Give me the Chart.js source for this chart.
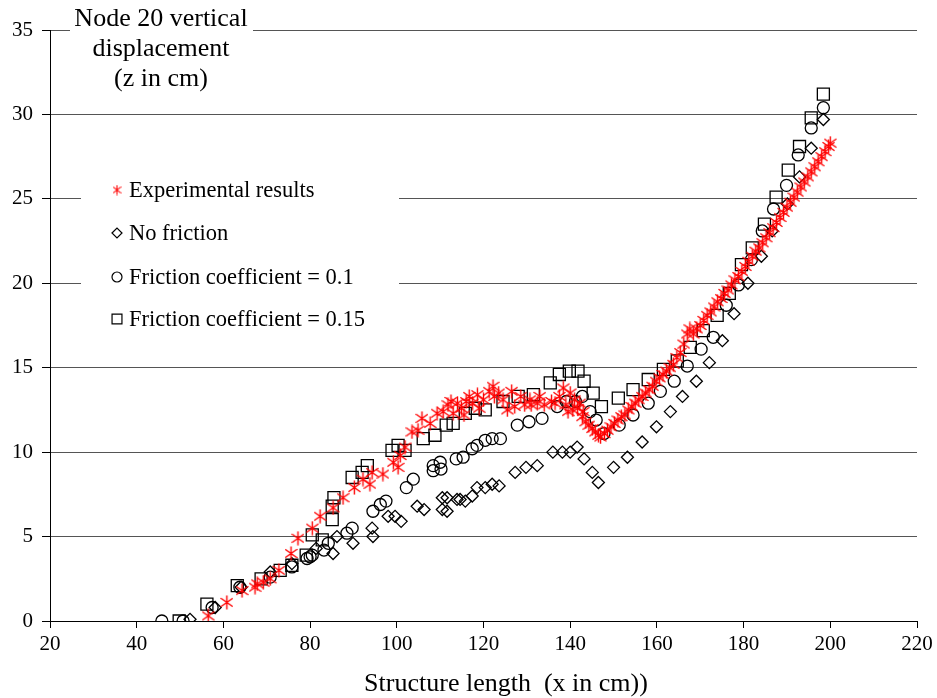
<!DOCTYPE html>
<html>
<head>
<meta charset="utf-8">
<script src="https://cdn.jsdelivr.net/npm/chart.js@4"></script>
<style>
  html, body { margin: 0; padding: 0; background: #fff; }
  canvas { display: block; }
</style>
</head>
<body>
<canvas id="chart" width="937" height="698"></canvas>
<script>
// ── Data ─────────────────────────────────────────────────────
const expX = [56.5, 60.8, 64.3, 67.3, 67.8, 69.2, 70.8, 72.8, 75.6, 77.2, 80.5, 82.3, 85.3, 87.6, 90.2, 92.2,
  93.8, 94.3, 96.8, 99.2, 100.3, 100.8, 101.9, 103.5, 104.9, 105.8, 107.7, 109.3, 110.7, 111.8, 112.5, 113.0,
  114.0, 114.9, 115.5, 116.0, 116.7, 117.5, 118.6, 119.0, 120.0, 121.3, 122.2, 122.5, 123.5, 124.5, 125.5, 126.5,
  127.2, 128.6, 129.5, 130.7, 131.0, 132.4, 133.0, 134.0, 135.7, 136.5, 137.5, 138.4, 139.0, 139.5, 140.0, 140.6,
  141.0, 141.7, 142.2, 142.8, 143.0, 143.6, 144.3, 145.1, 145.8, 146.5, 147.0, 147.9, 148.6, 149.4, 150.2, 151.0,
  151.8, 152.6, 153.4, 154.2, 155.0, 155.8, 156.6, 157.4, 158.2, 159.0, 159.8, 160.6, 161.4, 162.2, 163.0, 163.8,
  164.6, 165.4, 166.2, 167.0, 167.6, 168.4, 169.2, 170.0, 170.8, 171.6, 172.4, 173.2, 174.0, 174.8, 175.6, 176.4,
  177.2, 178.0, 178.8, 179.6, 180.4, 181.2, 182.0, 182.8, 183.6, 184.4, 185.2, 186.0, 186.8, 187.6, 188.4, 189.2,
  190.0, 190.8, 191.6, 192.4, 193.2, 194.0, 194.8, 195.6, 196.4, 197.2, 198.0, 198.8, 199.6, 200.0];
const expY = [0.3, 1.1, 1.8, 2.0, 2.2, 2.3, 2.5, 3.0, 4.0, 4.9, 5.5, 6.2, 6.7, 7.3, 7.9, 8.4,
  8.1, 8.8, 8.7, 9.4, 9.1, 9.8, 10.3, 11.2, 11.3, 12.0, 11.7, 12.3, 12.4, 12.8, 13.0, 12.3,
  12.9, 12.6, 12.2, 13.0, 13.3, 12.9, 13.4, 12.6, 13.1, 13.6, 13.9, 13.3, 13.5, 13.1, 12.5, 13.6,
  12.7, 13.3, 12.8, 13.1, 12.8, 12.9, 13.3, 12.8, 13.0, 12.9, 13.3, 13.8, 12.8, 12.4, 13.5, 12.5,
  13.1, 12.6, 12.9, 12.1, 12.4, 11.8, 11.6, 11.4, 11.2, 11.0, 10.9, 11.1, 11.3, 11.5, 11.7, 11.9,
  12.1, 12.2, 12.5, 12.7, 12.9, 13.1, 13.3, 13.5, 13.7, 13.9, 14.2, 14.4, 14.6, 14.8, 15.0, 15.2,
  15.6, 15.9, 16.4, 17.0, 17.3, 17.0, 17.3, 17.5, 17.8, 18.1, 18.3, 18.6, 18.9, 19.1, 19.4, 19.6,
  19.9, 20.2, 20.4, 20.7, 21.0, 21.3, 21.6, 21.9, 22.1, 22.4, 22.7, 23.0, 23.3, 23.6, 23.9, 24.2,
  24.5, 24.8, 25.1, 25.4, 25.7, 26.0, 26.3, 26.6, 26.9, 27.2, 27.5, 27.8, 28.1, 28.3];

const noFrictionX = [52.3, 58.1, 64.1, 70.8, 75.8, 81.4, 85.3, 86.2, 89.9, 94.3, 94.5, 98.0, 99.6, 101.0, 104.7, 106.3,
  110.5, 111.6, 110.5, 111.6, 113.9, 114.6, 115.8, 117.4, 118.5, 120.4, 122.0, 123.6, 127.3, 129.8, 132.4, 136.0,
  138.2, 140.0, 141.6, 143.2, 145.1, 146.5, 150.0, 153.2, 156.6, 159.9, 163.1, 165.9, 169.1, 172.1, 175.1, 177.8,
  181.0, 184.1, 186.6, 190.1, 192.9, 195.6, 198.4];
const noFrictionY = [0.1, 0.8, 2.0, 2.9, 3.4, 4.3, 4.0, 5.0, 4.6, 5.5, 5.0, 6.2, 6.2, 5.9, 6.8, 6.6,
  7.3, 7.3, 6.6, 6.5, 7.2, 7.2, 7.1, 7.4, 7.9, 7.9, 8.1, 8.0, 8.8, 9.1, 9.2, 10.0,
  10.0, 10.0, 10.3, 9.6, 8.8, 8.2, 9.1, 9.7, 10.6, 11.5, 12.4, 13.3, 14.2, 15.3, 16.6, 18.2,
  20.0, 21.6, 23.1, 24.7, 26.3, 28.0, 29.7];

const fric01X = [45.8, 50.7, 57.4, 63.8, 70.8, 75.8, 79.3, 80.0, 80.5, 83.2, 84.2, 88.5, 89.7, 94.5, 96.2, 97.5,
  102.2, 103.8, 108.4, 108.4, 110.0, 110.2, 113.7, 115.3, 117.4, 118.5, 120.4, 122.0, 123.9, 127.8, 130.5, 133.5,
  137.0, 139.1, 141.2, 142.8, 144.6, 146.0, 147.8, 151.3, 154.5, 158.0, 160.8, 164.0, 167.0, 170.2, 173.0, 176.0,
  178.8, 181.8, 184.3, 186.9, 189.9, 192.6, 195.6, 198.4];
const fric01Y = [0.0, 0.0, 0.8, 2.0, 2.6, 3.2, 3.7, 3.8, 3.9, 4.2, 4.6, 5.2, 5.5, 6.5, 6.9, 7.1,
  7.9, 8.4, 9.2, 8.9, 9.4, 9.0, 9.6, 9.7, 10.2, 10.4, 10.7, 10.8, 10.8, 11.6, 11.8, 12.0,
  12.7, 13.0, 13.0, 13.3, 12.4, 11.9, 11.1, 11.6, 12.2, 12.9, 13.6, 14.2, 15.1, 16.1, 16.8, 18.7,
  19.9, 21.4, 23.1, 24.4, 25.8, 27.6, 29.2, 30.4];

const fric015X = [49.8, 56.2, 63.2, 68.7, 73.1, 75.8, 79.1, 80.5, 82.8, 85.1, 85.1, 85.5, 89.7, 92.0, 93.2, 98.9,
  100.3, 101.9, 106.1, 108.8, 111.4, 113.0, 115.8, 118.1, 120.4, 124.5, 128.0, 131.5, 135.4, 137.5, 139.8, 141.8,
  143.2, 145.3, 147.2, 151.1, 154.5, 158.0, 161.5, 164.7, 167.7, 170.7, 173.9, 176.7, 179.5, 182.0, 184.8, 187.5,
  190.3, 192.9, 195.6, 198.4];
const fric015Y = [0.0, 1.0, 2.1, 2.5, 3.0, 3.3, 3.9, 5.1, 4.8, 6.0, 6.8, 7.3, 8.5, 8.8, 9.2, 10.1,
  10.4, 10.1, 10.8, 11.0, 11.6, 11.7, 12.3, 12.6, 12.5, 13.0, 13.3, 13.4, 14.1, 14.6, 14.8, 14.8,
  14.2, 13.5, 12.7, 13.2, 13.7, 14.3, 14.9, 15.4, 16.2, 17.2, 18.1, 19.4, 21.1, 22.1, 23.5, 25.1,
  26.7, 28.1, 29.8, 31.2];

const xTicks = [20, 40, 60, 80, 100, 120, 140, 160, 180, 200, 220];
const yTicks = [0, 5, 10, 15, 20, 25, 30, 35];

const titleLines = ['Node 20 vertical', 'displacement', '(z in cm)'];
const xTitle = 'Structure length  (x in cm))';
const legendLabels = ['Experimental results', 'No friction', 'Friction coefficient = 0.1', 'Friction coefficient = 0.15'];

// ── Styling ──────────────────────────────────────────────────
const SERIF = "'Liberation Serif', 'Times New Roman', serif";
const RED = '#ff0000';
const GRID = '#555555';

function makeAsterisk(size, lw) {
  const c = document.createElement('canvas');
  const w = size, h = size + 2;
  c.width = w; c.height = h;
  const g = c.getContext('2d');
  g.strokeStyle = RED;
  g.lineWidth = lw;
  g.beginPath();
  g.moveTo(w / 2, 0.5); g.lineTo(w / 2, h - 0.5);
  g.moveTo(0.5, h * 0.22); g.lineTo(w - 0.5, h * 0.78);
  g.moveTo(0.5, h * 0.78); g.lineTo(w - 0.5, h * 0.22);
  g.stroke();
  return c;
}
const starBig = makeAsterisk(13, 1.4);
const starSmall = makeAsterisk(9, 1.1);

const pts = (xs, ys) => xs.map((x, i) => ({ x, y: ys[i] }));

const seriesStyle = [
  { pointStyle: starBig, radius: 7, legendStyle: starSmall, legendRadius: 5 },
  { pointStyle: 'rectRot', radius: 6, legendStyle: 'rectRot', legendRadius: 5 },
  { pointStyle: 'circle', radius: 6, legendStyle: 'circle', legendRadius: 5 },
  { pointStyle: 'rect', radius: 8.5, legendStyle: 'rect', legendRadius: 7 },
];

const datasets = [
  pts(expX, expY), pts(noFrictionX, noFrictionY), pts(fric01X, fric01Y), pts(fric015X, fric015Y),
].map((data, i) => ({
  label: legendLabels[i],
  data,
  showLine: false,
  pointStyle: seriesStyle[i].pointStyle,
  pointRadius: seriesStyle[i].radius,
  pointHoverRadius: seriesStyle[i].radius,
  pointBackgroundColor: 'rgba(0,0,0,0)',
  pointBorderColor: i === 0 ? RED : '#000',
  pointBorderWidth: 1.3,
}));

// ── Overlay text: title box, in-plot legend, x axis title ────
const overlay = {
  id: 'overlay',
  afterDraw(chart) {
    const ctx = chart.ctx;
    ctx.save();
    ctx.fillStyle = '#fff';
    ctx.fillRect(70, 0, 183, 95);
    ctx.fillRect(81, 165, 318, 175);

    ctx.fillStyle = '#000';
    ctx.textBaseline = 'middle';
    ctx.textAlign = 'center';
    ctx.font = '26px ' + SERIF;
    titleLines.forEach((t, i) => ctx.fillText(t, 161, 19 + i * 30));

    ctx.font = '26px ' + SERIF;
    ctx.fillText(xTitle, 506, 684);

    ctx.textAlign = 'left';
    ctx.font = '22.5px ' + SERIF;
    const rows = [190, 233, 277, 319];
    legendLabels.forEach((t, i) => {
      const s = seriesStyle[i];
      ctx.strokeStyle = i === 0 ? RED : '#000';
      ctx.fillStyle = 'rgba(0,0,0,0)';
      ctx.lineWidth = 1.2;
      Chart.helpers.drawPoint(ctx, { pointStyle: s.legendStyle, radius: s.legendRadius, rotation: 0, borderWidth: 1.2 }, 117, rows[i]);
      ctx.fillStyle = '#000';
      ctx.fillText(t, 129, rows[i] + 1);
    });
    ctx.restore();
  },
};

new Chart(document.getElementById('chart'), {
  type: 'scatter',
  data: { datasets },
  options: {
    responsive: false,
    animation: false,
    layout: { padding: { top: 30, right: 20, left: 0, bottom: 0 } },
    plugins: { legend: { display: false }, tooltip: { enabled: false } },
    scales: {
      x: {
        type: 'linear',
        min: xTicks[0],
        max: xTicks[xTicks.length - 1],
        afterBuildTicks: (scale) => { scale.ticks = xTicks.map((v) => ({ value: v })); },
        afterFit: (scale) => { scale.height = 77; },
        ticks: { color: '#000', font: { family: SERIF, size: 21 }, padding: 4, maxRotation: 0 },
        grid: { drawOnChartArea: false, drawTicks: true, tickLength: 7, tickColor: '#000' },
        border: { color: '#000', width: 1 },
      },
      y: {
        type: 'linear',
        min: yTicks[0],
        max: yTicks[yTicks.length - 1],
        afterBuildTicks: (scale) => { scale.ticks = yTicks.map((v) => ({ value: v })); },
        afterFit: (scale) => { scale.width = 50; },
        ticks: { color: '#000', font: { family: SERIF, size: 21 }, padding: 9 },
        grid: { color: GRID, lineWidth: 1, drawTicks: true, tickLength: 8, tickColor: '#000' },
        border: { color: '#000', width: 1 },
      },
    },
  },
  plugins: [overlay],
});
</script>
</body>
</html>
